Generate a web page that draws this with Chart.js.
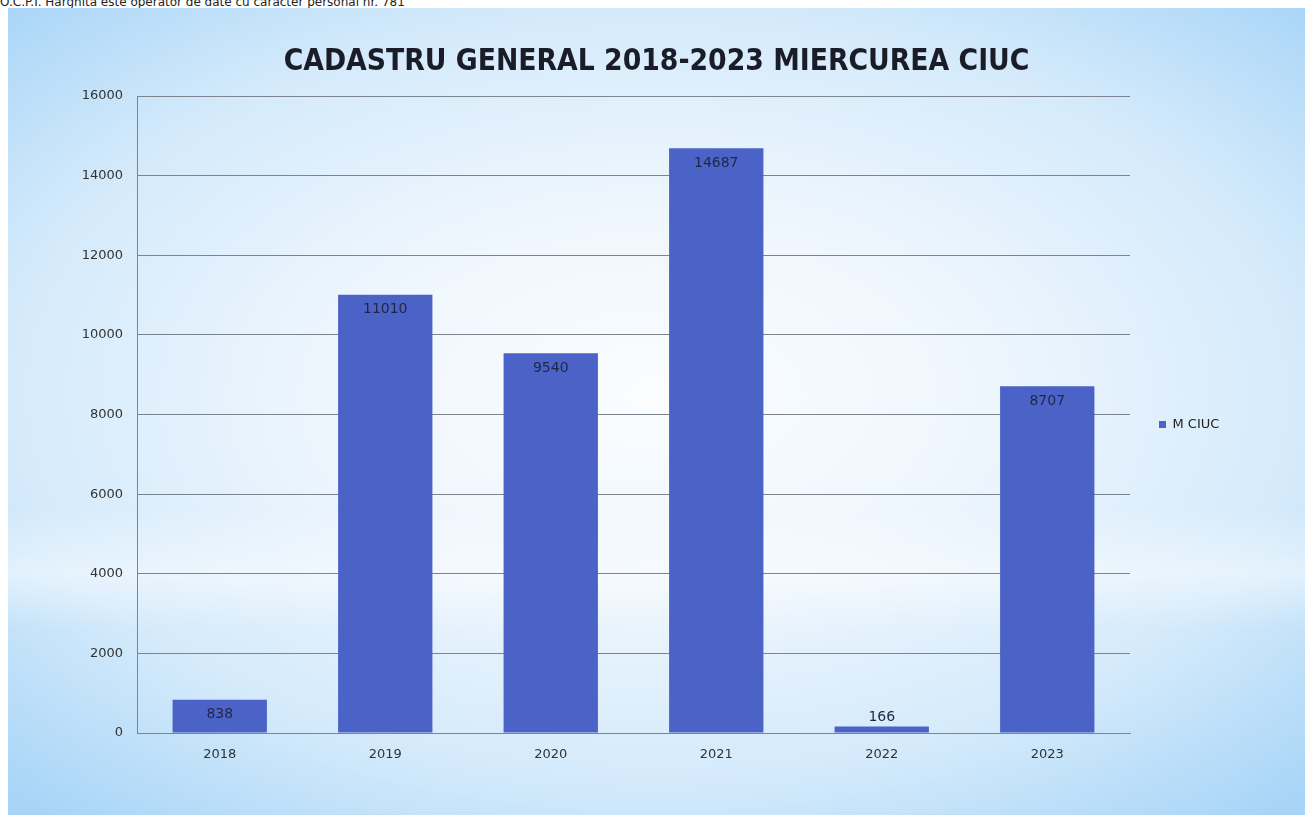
<!DOCTYPE html>
<html>
<head>
<meta charset="utf-8">
<script src="https://cdn.jsdelivr.net/npm/chart.js@4.4.0/dist/chart.umd.min.js"></script>
<style>
  html, body { margin: 0; padding: 0; background: #fff; width: 1305px; height: 815px; overflow: hidden; }
  #note { position: absolute; left: 0; top: -5px; font: 12px "DejaVu Sans", sans-serif; color: #222; white-space: nowrap; }
  #slide {
    position: absolute; left: 8px; top: 8px; width: 1297px; height: 807px;
    background:
      linear-gradient(to bottom, rgba(255,255,255,0) 62%, rgba(255,255,255,0.45) 70%, rgba(255,255,255,0) 77%),
      radial-gradient(ellipse 72% 68% at 50% 48%, #fbfdff 0%, #eef6fd 35%, #d4eafb 70%, #a8d5f7 100%);
  }
  #myChart { position: absolute; left: 0; top: 0; }
</style>
</head>
<body>
<div id="note">O.C.P.I. Harghita este operator de date cu caracter personal nr. 781</div>
<div id="slide"><canvas id="myChart" width="1297" height="807"></canvas></div>
<script>
// chart data
var years = ['2018', '2019', '2020', '2021', '2022', '2023'];
var counts = [838, 11010, 9540, 14687, 166, 8707];
var seriesName = 'M CIUC';
var chartTitle = 'CADASTRU GENERAL 2018-2023 MIERCUREA CIUC';

var barColor = '#4b63c7';
var gridColor = '#7c858f';

// draws the value inside the top of each bar (above it when the bar is too short)
var valueLabels = {
  id: 'valueLabels',
  afterDatasetsDraw: function(chart) {
    var ctx = chart.ctx;
    var meta = chart.getDatasetMeta(0);
    ctx.save();
    ctx.font = '14px "DejaVu Sans", sans-serif';
    ctx.fillStyle = '#1f2745';
    ctx.textAlign = 'center';
    ctx.textBaseline = 'middle';
    meta.data.forEach(function(bar, i) {
      var h = bar.base - bar.y;
      var y = h > 30 ? bar.y + 15 : bar.y - 9;
      ctx.fillText(String(counts[i]), bar.x, y);
    });
    ctx.restore();
  }
};

// keep the legend column a fixed width (so the title stays centred on the slide)
// and push it down a little, like in the original slide
var legendSpot = {
  id: 'legendSpot',
  beforeLayout: function(chart) {
    var lg = chart.legend;
    if (lg && !lg._fixedFit) {
      var fit = lg.fit;
      lg.fit = function() { fit.call(this); this.width = 175; };
      lg._fixedFit = true;
    }
  },
  afterLayout: function(chart) {
    chart.legend.top += 38;
    chart.legend.bottom += 38;
  }
};

const config = {
  type: 'bar',
  data: {
    labels: years,
    datasets: [{
      label: seriesName,
      data: counts,
      backgroundColor: barColor,
      categoryPercentage: 0.57,
      barPercentage: 1
    }]
  },
  options: {
    responsive: false,
    animation: false,
    layout: { padding: { left: 0, right: 0, top: 0, bottom: 50 } },
    plugins: {
      title: {
        display: true,
        text: chartTitle,
        color: '#1a1c28',
        font: { family: '"DejaVu Sans Condensed", "DejaVu Sans", sans-serif', size: 29.7, weight: 'bold' },
        padding: { top: 36, bottom: 16.4 }
      },
      legend: {
        position: 'right',
        labels: {
          boxWidth: 7,
          boxHeight: 7,
          padding: 29,
          color: '#222',
          font: { family: '"DejaVu Sans", sans-serif', size: 13 }
        }
      },
      tooltip: { enabled: false }
    },
    scales: {
      x: {
        grid: { display: false, drawTicks: false },
        border: { display: true, color: gridColor, width: 1 },
        ticks: { color: '#333', padding: 14, font: { family: '"DejaVu Sans", sans-serif', size: 13 } },
        afterFit: function(s) { s.height = 32; }
      },
      y: {
        min: 0,
        max: 16000,
        ticks: {
          stepSize: 2000, color: '#333', padding: 14,
          font: { family: '"DejaVu Sans", sans-serif', size: 13 },
          callback: function(v) { return String(v); }
        },
        grid: { color: gridColor, lineWidth: 1, drawTicks: false },
        border: { display: true, color: gridColor, width: 1 },
        afterFit: function(s) { s.width = 129; }
      }
    }
  },
  plugins: [valueLabels, legendSpot]
};

const myChart = new Chart(document.getElementById('myChart'), config);
</script>
</body>
</html>
